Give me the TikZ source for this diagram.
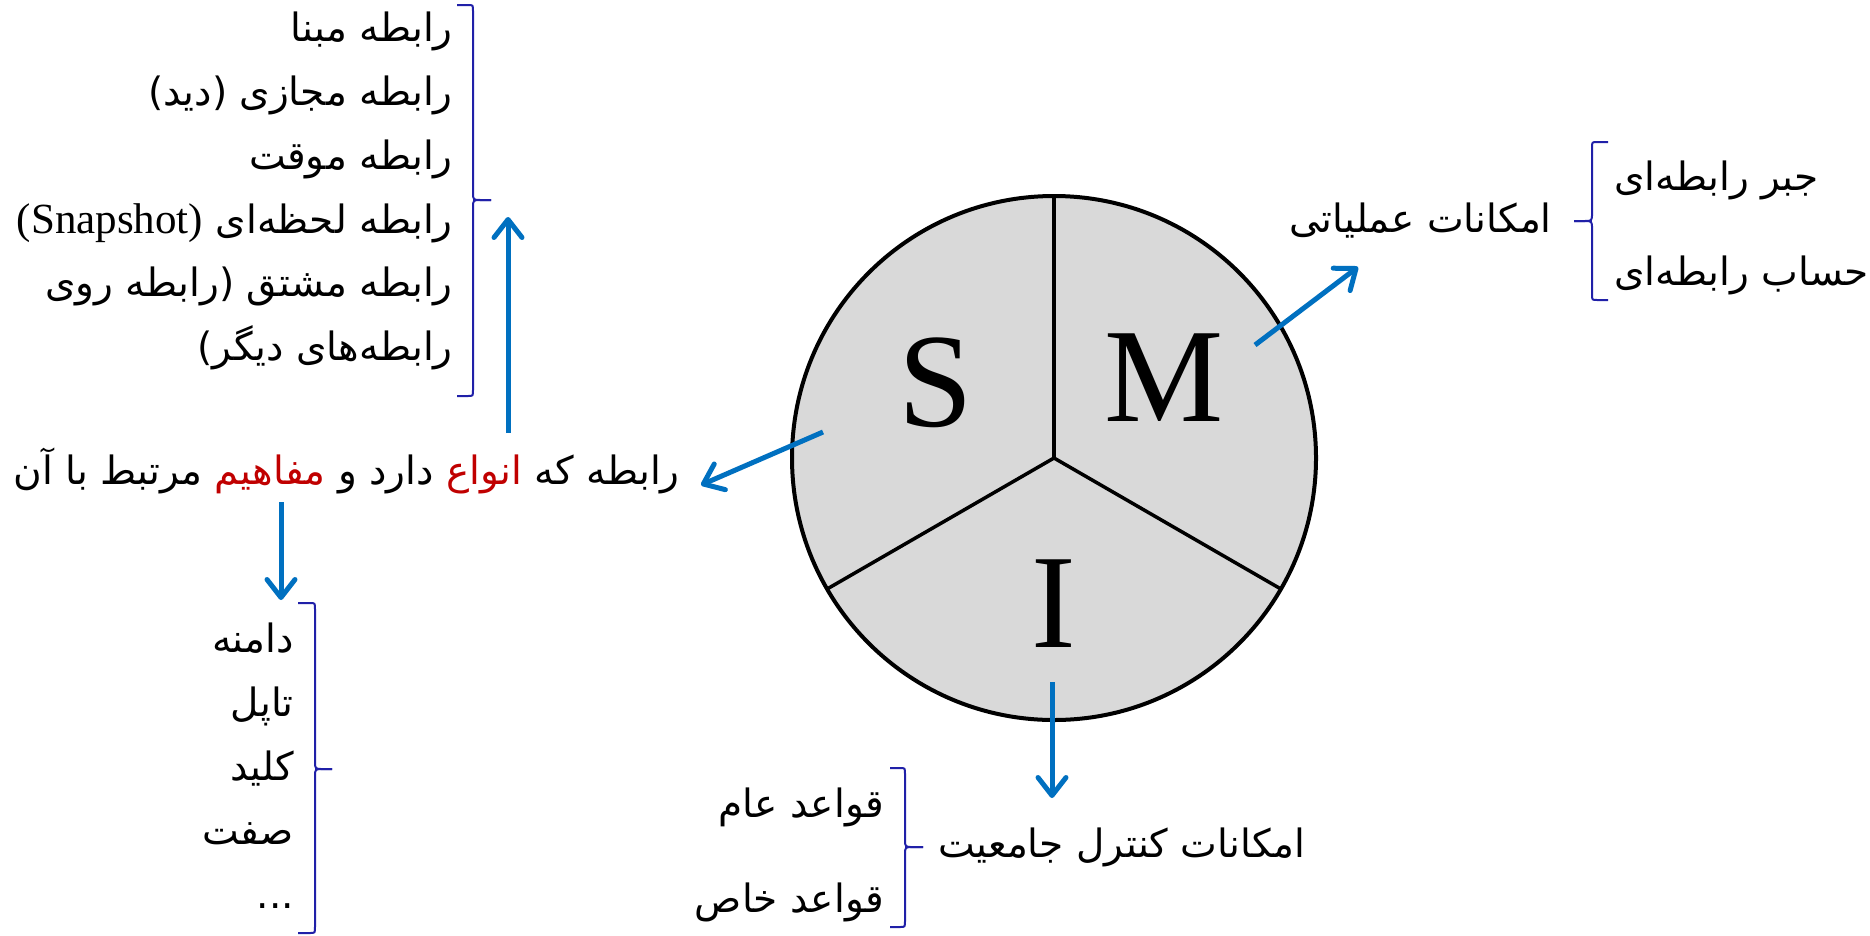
\documentclass[tikz,border=0pt]{standalone}
\usepackage{fontspec}
\setmainfont{Liberation Serif}
\newfontfamily\ar[Script=Arabic]{DejaVu Sans}
\usetikzlibrary{arrows.meta}
\TeXXeTstate=1
\definecolor{arrblue}{HTML}{0070C0}
\definecolor{brblue}{HTML}{2020A8}
\definecolor{redw}{HTML}{C00000}
\definecolor{segfill}{HTML}{D9D9D9}
\newcommand{\arsz}{\fontsize{39}{45}\selectfont}
\newcommand{\latsz}{\fontsize{43}{43}\selectfont\rmfamily}
\begin{document}
\begin{tikzpicture}[x=1pt,y=-1pt,
  conn/.style={draw=arrblue, line width=5pt, -{Straight Barb[length=18pt,width=28pt,round]}},
  brc/.style={draw=brblue, line width=2pt},
  artxt/.style={inner sep=0pt, font=\ar\arsz},
  letter/.style={inner sep=0pt, anchor=base, font=\fontsize{134}{134}\selectfont}]
\path[use as bounding box] (0,0) rectangle (1870,935);

% circle
\coordinate (C) at (1054,458);
\fill[segfill] (C) circle[radius=262pt];
\draw[line width=3.5pt] (C) -- ++(0,-262);
\draw[line width=3.5pt] (C) -- ++(-226.9,131);
\draw[line width=3.5pt] (C) -- ++(226.9,131);
\draw[line width=4pt] (C) circle[radius=262pt];
\node[letter] (S) at (936,426) {S};
\node[letter] (M) at (1164,421) {M};
\node[letter] (I) at (1054,647) {I};

% upper-left list
\node[artxt, anchor=base east] (u1) at (453,41) {\beginR رابطه مبنا\endR};
\node[artxt, anchor=base east] (u2) at (453,105) {\beginR رابطه مجازی (دید)\endR};
\node[artxt, anchor=base east] (u3) at (453,169) {\beginR رابطه موقت\endR};
\node[artxt, anchor=base east] (u4) at (453,233) {\beginR رابطه لحظه‌ای \beginL{\latsz(Snapshot)}\endL\endR};
\node[artxt, anchor=base east] (u5) at (453,296) {\beginR رابطه مشتق (رابطه روی\endR};
\node[artxt, anchor=base east] (u6) at (453,360) {\beginR رابطه‌های دیگر)\endR};
\draw[brc] (457,5) -- (468,5) .. controls (473,5) .. (473,11) -- (473,192) .. controls (473,200) .. (481,200) -- (491,200);
\draw[brc] (491,200) -- (481,200) .. controls (473,200) .. (473,208) -- (473,390) .. controls (473,396) .. (468,396) -- (457,396);

% middle-left label
\node[artxt, anchor=base east] (rel) at (680,484) {\beginR مرتبط با آن\endR\ {\color{redw}\beginR مفاهیم\endR}\ \beginR دارد و\endR\ {\color{redw}\beginR انواع\endR}\ \beginR رابطه که\endR};

% lower-left list
\node[artxt, anchor=base east] (d1) at (294,652) {\beginR دامنه\endR};
\node[artxt, anchor=base east] (d2) at (294,716) {\beginR تاپل\endR};
\node[artxt, anchor=base east] (d3) at (294,780) {\beginR کلید\endR};
\node[artxt, anchor=base east] (d4) at (294,844) {\beginR صفت\endR};
\node[artxt, anchor=base east] (d5) at (294,908) {...};
\draw[brc] (298,603) -- (310,603) .. controls (315,603) .. (315,609) -- (315,761) .. controls (315,769) .. (323,769) -- (332,769);
\draw[brc] (332,769) -- (323,769) .. controls (315,769) .. (315,777) -- (315,927) .. controls (315,933) .. (310,933) -- (298,933);

% right labels
\node[artxt, anchor=base east] (ops) at (1552,232) {\beginR امکانات عملیاتی\endR};
\node[artxt, anchor=base west] (alg) at (1614,190) {\beginR جبر رابطه‌ای\endR};
\node[artxt, anchor=base west] (cal) at (1614,285) {\beginR حساب رابطه‌ای\endR};
\draw[brc] (1608,142) -- (1597,142) .. controls (1592,142) .. (1592,148) -- (1592,213) .. controls (1592,221) .. (1584,221) -- (1574,221);
\draw[brc] (1574,221) -- (1584,221) .. controls (1592,221) .. (1592,229) -- (1592,294) .. controls (1592,300) .. (1597,300) -- (1608,300);

% bottom labels
\node[artxt, anchor=base west] (ic) at (938,857) {\beginR امکانات کنترل جامعیت\endR};
\node[artxt, anchor=base east] (gen) at (884,817) {\beginR قواعد عام\endR};
\node[artxt, anchor=base east] (spc) at (884,912) {\beginR قواعد خاص\endR};
\draw[brc] (890,768) -- (900,768) .. controls (905,768) .. (905,774) -- (905,839) .. controls (905,847) .. (913,847) -- (923,847);
\draw[brc] (923,847) -- (913,847) .. controls (905,847) .. (905,855) -- (905,921) .. controls (905,927) .. (900,927) -- (890,927);

% arrows
\coordinate (sA) at (823,432); \coordinate (sT) at (701,485);
\coordinate (mA) at (1255,345); \coordinate (mT) at (1358,267);
\coordinate (iA) at (1052,682); \coordinate (iT) at (1052,798);
\coordinate (uA) at (508,433); \coordinate (uT) at (508,217);
\coordinate (dA) at (281,502); \coordinate (dT) at (281,600);
\draw[conn] (sA) -- (sT);
\draw[conn] (mA) -- (mT);
\draw[conn] (iA) -- (iT);
\draw[conn] (uA) -- (uT);
\draw[conn] (dA) -- (dT);
\end{tikzpicture}
\end{document}
